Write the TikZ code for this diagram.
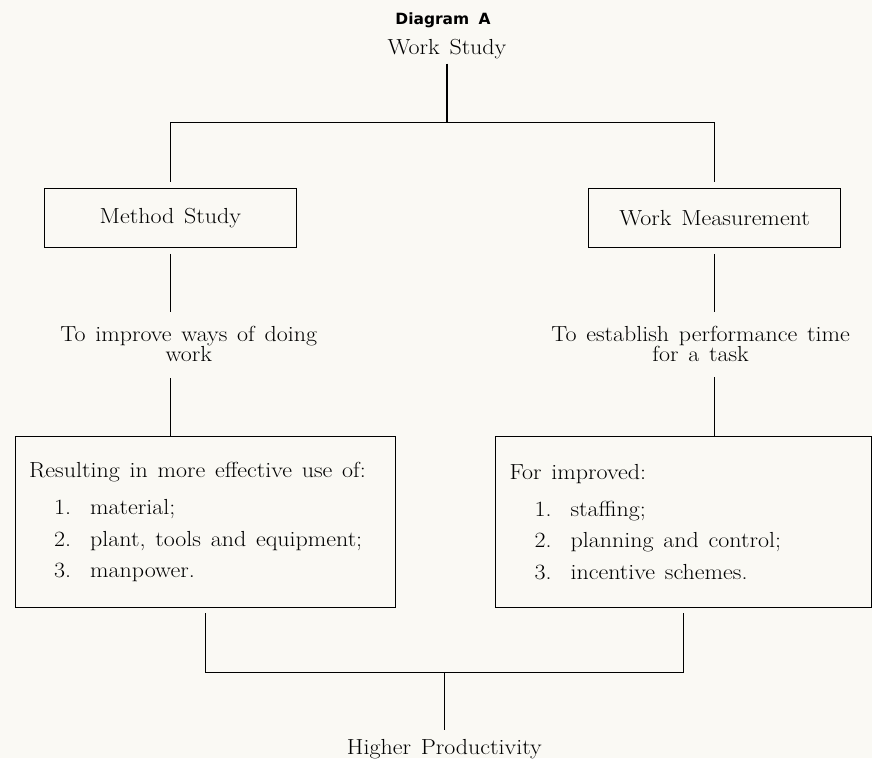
\documentclass[tikz,border=0pt]{standalone}
\usepackage{fontspec}
\usepackage{xcolor}
\usepackage{tikz}
\usetikzlibrary{positioning,calc}
\setmainfont{Latin Modern Roman}[FakeStretch=1.1, WordSpace=1.35]
\newfontfamily\headfont{DejaVu Sans}
\definecolor{paper}{HTML}{FAF9F4}
\newcommand\headingfont{\headfont\bfseries\fontsize{11}{11}\selectfont\spaceskip=0.6em\relax}
\newcommand\diagfont{\fontsize{15.5}{14.5}\selectfont}
\newcommand\listfont{\fontsize{15.5}{22.3}\selectfont}
\newcommand\studyitem[2]{\hspace*{0.625cm}\makebox[0.9cm][l]{#1}#2}

\begin{document}
\begin{tikzpicture}[
  every node/.style={font=\diagfont},
  heading/.style={font=\headingfont, inner sep=0pt},
  caption/.style={inner sep=0pt, align=center},
  stage/.style={rectangle, draw, line width=0.9pt, minimum width=6.3cm, minimum height=1.475cm},
  outcome/.style={rectangle, draw, line width=0.9pt, align=flush left, inner xsep=0.35cm, minimum height=4.275cm, font=\listfont},
  link/.style={line width=0.9pt}
]
  \fill[paper] (0,0) rectangle (21.8,-18.95);
  \useasboundingbox (0,0) rectangle (21.8,-18.95);

  \node[heading] (diagram) at (11.075,-0.51) {Diagram A};
  \node[caption, below=0.26cm of diagram, xshift=0.1cm] (work) {Work Study};
  \coordinate[below=1.6cm of work] (split);
  \node[stage, below left=1.62cm and 3.75cm of split] (method) {Method Study};
  \node[stage, right=7.275cm of method] (measure) {Work Measurement};
  \node[caption, below=1.95cm of method, xshift=0.46cm] (methodaim) {To improve ways of doing\\work};
  \node[caption, below=1.95cm of measure, xshift=-0.35cm] (measureaim) {To establish performance time\\for a task};
  \node[outcome, text width=8.8cm, below=4.7cm of method, xshift=0.87cm] (methodres) {\mbox{Resulting in more effective use of:}\\[4pt]
    \studyitem{1.}{material;}\\
    \studyitem{2.}{plant, tools and equipment;}\\
    \studyitem{3.}{manpower.}};
  \node[outcome, text width=8.7cm, below=4.7cm of measure, xshift=-0.775cm] (measureres) {For improved:\\[4pt]
    \studyitem{1.}{staffing;}\\
    \studyitem{2.}{planning and control;}\\
    \studyitem{3.}{incentive schemes.}};
  \coordinate[below=1.6cm of methodres.south] (bar);
  \coordinate (join) at ($(bar)!0.5!(bar -| measureres.south)$);
  \node[caption, below=1.675cm of join] (output) {Higher Productivity};

  \draw[link, shorten <=0.12cm] (work.south) -- (split);
  \draw[link, shorten <=0.15cm, shorten >=0.15cm] (method.north) |- (split) -| (measure.north);
  \draw[link, shorten <=0.15cm, shorten >=0.35cm] (method.south) -- (method.south |- methodaim.north);
  \draw[link, shorten <=0.15cm, shorten >=0.35cm] (measure.south) -- (measure.south |- measureaim.north);
  \draw[link, shorten <=0.4cm] (method.south |- methodaim.south) -- (method.south |- methodres.north);
  \draw[link, shorten <=0.375cm] (measure.south |- measureaim.south) -- (measure.south |- measureres.north);
  \draw[link, shorten <=0.125cm, shorten >=0.125cm] (methodres.south) -- (bar) -| (measureres.south);
  \draw[link, shorten >=0.22cm] (join) -- (output.north);
\end{tikzpicture}
\end{document}
